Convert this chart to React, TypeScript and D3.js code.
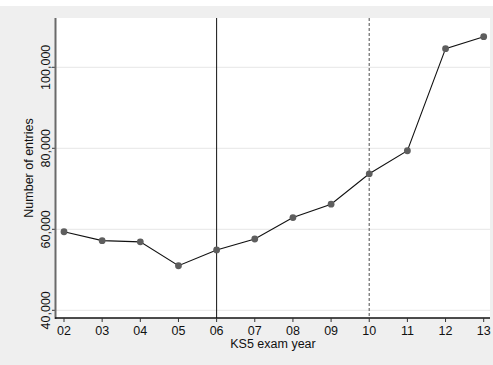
import React from "react";
import * as d3 from "d3";

const years = ["02", "03", "04", "05", "06", "07", "08", "09", "10", "11", "12", "13"];
const entries = [59400, 57200, 56900, 51000, 54900, 57600, 62900, 66200, 73700, 79400, 104600, 107550];
const yTicks = [40000, 60000, 80000, 100000];
const solidLineYear = "06";
const dashedLineYear = "10";

const W = 493;
const H = 365;
const plotLeft = 56;
const plotRight = 490;
const plotTop = 18;
const plotBottom = 318;

export default function App() {
  const x = d3.scalePoint<string>().domain(years).range([64, 483.7]);
  const y = d3.scaleLinear().domain([38100, 112170]).range([plotBottom, plotTop]);
  const fmt = d3.format(",");
  const line = d3
    .line<number>()
    .x((_, i) => x(years[i]) as number)
    .y((d) => y(d));
  const font = "Liberation Sans, Arial, sans-serif";

  return (
    <svg
      width={W}
      height={H}
      style={{ position: "absolute", left: 0, top: 0, display: "block" }}
      fontFamily={font}
    >
      <rect x={0} y={0} width={W} height={H} fill="#efefef" />
      <rect x={0} y={0} width={W} height={6} fill="#ffffff" />
      <rect x={plotLeft} y={plotTop} width={plotRight - plotLeft} height={plotBottom - plotTop} fill="#ffffff" />
      {yTicks.map((t) => (
        <g key={t}>
          <line x1={plotLeft} x2={plotRight} y1={y(t)} y2={y(t)} stroke="#e6e6e6" strokeWidth={1} />
          <line x1={plotLeft - 4} x2={plotLeft} y1={y(t)} y2={y(t)} stroke="#333" strokeWidth={1} />
          <text
            transform={`translate(50,${y(t)}) rotate(-90)`}
            textAnchor="middle"
            fontSize={12.5}
            fill="#111"
          >
            {fmt(t)}
          </text>
        </g>
      ))}
      <line
        x1={x(solidLineYear)}
        x2={x(solidLineYear)}
        y1={plotTop}
        y2={plotBottom}
        stroke="#111"
        strokeWidth={1}
      />
      <line
        x1={x(dashedLineYear)}
        x2={x(dashedLineYear)}
        y1={plotTop}
        y2={plotBottom}
        stroke="#777"
        strokeWidth={1.3}
        strokeDasharray="3,2"
      />
      <path d={line(entries) || ""} fill="none" stroke="#111" strokeWidth={1.1} />
      {entries.map((v, i) => (
        <circle key={years[i]} cx={x(years[i])} cy={y(v)} r={3.4} fill="#5e5e5e" />
      ))}
      <line x1={plotLeft - 0.5} x2={plotLeft - 0.5} y1={plotTop} y2={plotBottom + 1} stroke="#6a6a6a" strokeWidth={2} />
      <line x1={plotLeft - 1} x2={plotRight} y1={plotBottom} y2={plotBottom} stroke="#111" strokeWidth={1.3} />
      {years.map((yr) => (
        <g key={yr}>
          <line x1={x(yr)} x2={x(yr)} y1={plotBottom} y2={plotBottom + 4} stroke="#333" strokeWidth={1} />
          <text x={x(yr)} y={335} textAnchor="middle" fontSize={12.5} fill="#111">
            {yr}
          </text>
        </g>
      ))}
      <text x={(plotLeft + plotRight) / 2} y={348.3} textAnchor="middle" fontSize={12.5} fill="#111">
        KS5 exam year
      </text>
      <text
        transform={`translate(32.5,${(plotTop + plotBottom) / 2}) rotate(-90)`}
        textAnchor="middle"
        fontSize={12.5}
        fill="#111"
      >
        Number of entries
      </text>
    </svg>
  );
}
